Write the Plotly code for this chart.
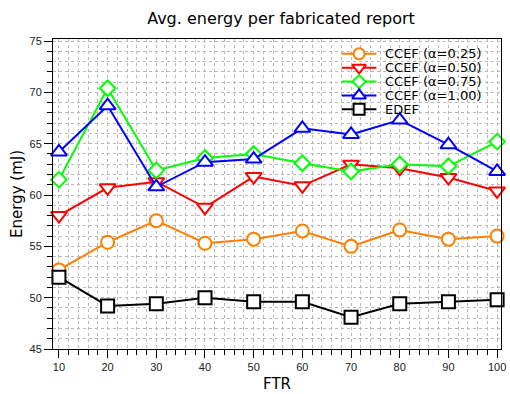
import plotly.graph_objects as go

ftr = [10, 20, 30, 40, 50, 60, 70, 80, 90, 100]
ccef_025 = [52.7, 55.4, 57.5, 55.3, 55.7, 56.5, 55.0, 56.6, 55.7, 56.0]
ccef_050 = [58.0, 60.7, 61.3, 58.8, 61.8, 60.9, 63.0, 62.6, 61.7, 60.4]
ccef_075 = [61.5, 70.4, 62.4, 63.6, 64.0, 63.1, 62.3, 63.0, 62.8, 65.2]
ccef_100 = [64.2, 68.7, 60.8, 63.2, 63.5, 66.5, 65.9, 67.3, 64.9, 62.3]
edef = [52.0, 49.2, 49.4, 50.0, 49.6, 49.6, 48.1, 49.4, 49.6, 49.8]

names = ["CCEF (\u03b1=0.25)", "CCEF (\u03b1=0.50)", "CCEF (\u03b1=0.75)", "CCEF (\u03b1=1.00)", "EDEF"]
series = [ccef_025, ccef_050, ccef_075, ccef_100, edef]
colors = ["#FF8000", "#FF0000", "#00FF00", "#0000FF", "#000000"]
symbols = ["circle", "triangle-down", "diamond", "triangle-up", "square"]
sizes = [13, 14, 12, 14, 13]

fig = go.Figure()
for name, ys, c, s, sz in zip(names, series, colors, symbols, sizes):
    fig.add_trace(go.Scatter(
        x=ftr, y=ys, name=name, mode="lines+markers",
        line=dict(color=c, width=2),
        marker=dict(symbol=s, size=sz, color="white", line=dict(color=c, width=2)),
        showlegend=False, cliponaxis=False,
    ))

# custom compact legend on a pixel-like overlay axis
leg_y = [54, 68, 82, 96, 110]
leg_sizes = [11, 12, 10, 12, 11]
for name, c, s, ly, ms in zip(names, colors, symbols, leg_y, leg_sizes):
    fig.add_trace(go.Scatter(
        x=[345, 380], y=[ly, ly], xaxis="x2", yaxis="y2", mode="lines",
        line=dict(color=c, width=2), showlegend=False, hoverinfo="skip",
    ))
    fig.add_trace(go.Scatter(
        x=[362.5], y=[ly], xaxis="x2", yaxis="y2", mode="markers",
        marker=dict(symbol=s, size=ms, color="white", line=dict(color=c, width=2)),
        showlegend=False, hoverinfo="skip",
    ))
    fig.add_annotation(x=388, y=ly, xref="x2", yref="y2", text=name, showarrow=False,
                       xanchor="left", yanchor="middle", borderpad=0,
                       font=dict(family="DejaVu Sans", size=13, color="black"))

fig.update_layout(
    width=510, height=394,
    margin=dict(l=53, r=4, t=39, b=42),
    paper_bgcolor="white", plot_bgcolor="white",
    font=dict(family="DejaVu Sans", color="black"),
    title=dict(text="Avg. energy per fabricated report", x=0.551, xanchor="center",
               y=0.953, yanchor="middle", font=dict(size=16, color="black")),
    xaxis=dict(
        range=[8.78, 100.8], tickvals=ftr, ticks="outside", ticklen=8, tickcolor="black",
        showline=True, linecolor="black", linewidth=1, mirror=True,
        showgrid=True, gridcolor="#b8b8b8", griddash="dot", gridwidth=1,
        zeroline=False, ticklabeloverflow="allow",
        tickfont=dict(family="Liberation Sans", size=11, color="#222"),
        minor=dict(dtick=2, tick0=0, ticks="outside", ticklen=5, tickcolor="black",
                   showgrid=True, gridcolor="#b8b8b8", griddash="dot"),
        title=dict(text="FTR", font=dict(size=15), standoff=6),
    ),
    yaxis=dict(
        range=[45, 75.2], tickvals=[45, 50, 55, 60, 65, 70, 75], ticks="outside", ticklen=8,
        tickcolor="black", showline=True, linecolor="black", linewidth=1, mirror=True,
        showgrid=True, gridcolor="#b8b8b8", griddash="dot", gridwidth=1,
        zeroline=False, tickfont=dict(family="Liberation Sans", size=11, color="#222"),
        minor=dict(dtick=1, tick0=0, ticks="outside", ticklen=5, tickcolor="black",
                   showgrid=True, gridcolor="#b8b8b8", griddash="dot"),
        title=dict(text="Energy (mJ)", font=dict(size=15), standoff=3),
    ),
    xaxis2=dict(range=[53, 506], overlaying="x", visible=False, fixedrange=True),
    yaxis2=dict(range=[352, 39], overlaying="y", visible=False, fixedrange=True),
)

fig.write_html("out.html")
